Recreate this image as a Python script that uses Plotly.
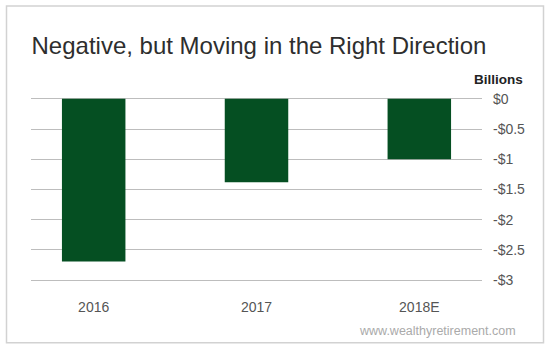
import plotly.graph_objects as go

categories = ["2016", "2017", "2018E"]
values = [-2.69, -1.38, -1.0]
y_tickvals = [0, -0.5, -1, -1.5, -2, -2.5, -3]
y_ticktext = ["$0", "-$0.5", "-$1", "-$1.5", "-$2", "-$2.5", "-$3"]

W, H = 550, 352
PAD = 0.03  # extra y-range so the edge gridlines are drawn
PPU = (280 - 99) / 3.0  # pixels per unit
L, R = 31, 482
T, B = 99 - PAD * PPU, 280 + PAD * PPU  # plot area pixel bounds

def px(x):
    return (x - L) / (R - L)

def py(y):
    return (B - y) / (B - T)

FONT = "Liberation Sans, Arial, Helvetica, sans-serif"

fig = go.Figure(go.Bar(
    x=categories, y=values, width=0.39,
    marker=dict(color="#054f22", line=dict(width=0)),
))

fig.update_layout(
    width=W, height=H,
    margin=dict(l=L, r=W - R, t=T, b=H - B, pad=0),
    paper_bgcolor="white", plot_bgcolor="white",
    showlegend=False,
    font=dict(family=FONT, color="#555"),
    title=dict(text="Negative, but Moving in the Right Direction",
               x=31.5 / W, xanchor="left", xref="container",
               y=1 - 45.5 / H, yanchor="middle", yref="container",
               font=dict(size=24, color="#2e2e2e", family=FONT)),
    xaxis=dict(range=[-0.385, 2.385], showgrid=False, zeroline=False,
               showline=False, ticks="", tickfont=dict(size=14, color="#555"),
               ticklabelstandoff=15),
    yaxis=dict(side="right", range=[-3 - PAD, PAD], tickvals=y_tickvals,
               ticktext=y_ticktext, showgrid=True, gridcolor="#bdbdbd",
               gridwidth=1, zeroline=False, showline=False, ticks="",
               tickfont=dict(size=14, color="#555"), ticklabelstandoff=10),
    shapes=[dict(type="rect", xref="paper", yref="paper",
                 x0=px(6.5), x1=px(543.5), y0=py(342.5), y1=py(6.5),
                 line=dict(color="#d2d2d2", width=1.5), layer="below")],
    annotations=[
        dict(text="<b>Billions</b>", xref="paper", yref="paper",
             x=px(525), y=py(80), xanchor="right", yanchor="middle",
             showarrow=False, font=dict(size=13.5, color="#222", family=FONT)),
        dict(text="www.wealthyretirement.com", xref="paper", yref="paper",
             x=px(518), y=py(331), xanchor="right", yanchor="middle",
             showarrow=False, font=dict(size=12.5, color="#aaa", family=FONT)),
    ],
)

fig.write_html("out.html")
